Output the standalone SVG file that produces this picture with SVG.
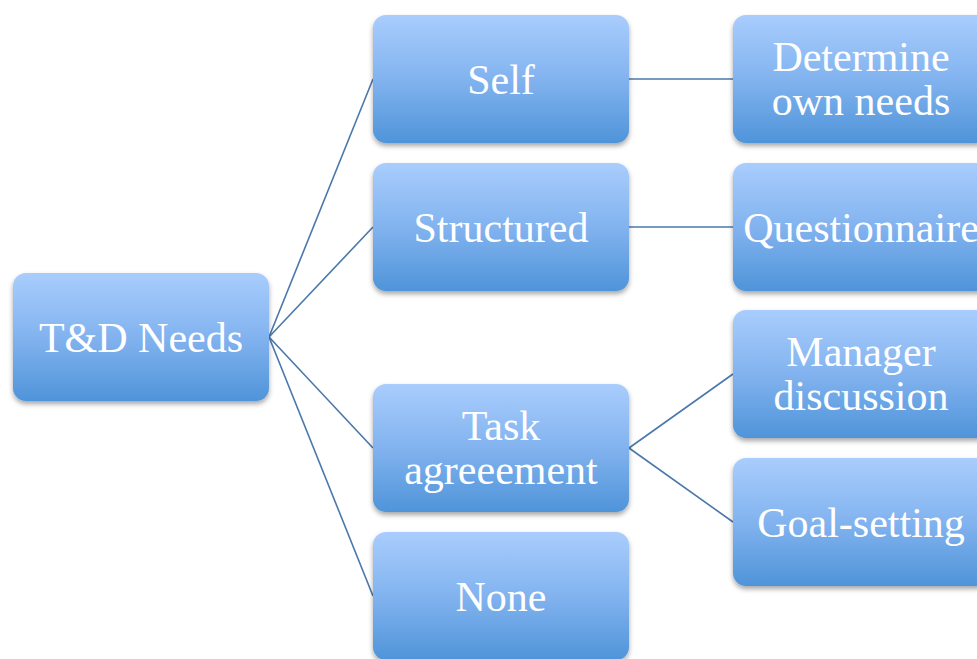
<svg xmlns="http://www.w3.org/2000/svg" width="977" height="659" viewBox="0 0 977 659">
<defs>
<linearGradient id="g" x1="0" y1="0" x2="0" y2="1">
<stop offset="0" stop-color="#a9cdfd"/>
<stop offset="0.5" stop-color="#82b3ef"/>
<stop offset="1" stop-color="#4f94d9"/>
</linearGradient>
<filter id="sh" x="-10%" y="-10%" width="120%" height="130%">
<feDropShadow dx="0" dy="3" stdDeviation="2.5" flood-color="#000" flood-opacity="0.35"/>
</filter>
</defs>
<style>
.box{fill:url(#g);filter:url(#sh);}
.t{font-family:"Liberation Serif","Times New Roman",serif;font-size:42px;fill:#fff;text-anchor:middle;}
.c{stroke:#4a78ab;stroke-width:1.6;fill:none;}
</style>
<rect width="977" height="659" fill="#fff"/>
<g id="connectors">
<line class="c" x1="269" y1="337" x2="373" y2="79"/>
<line class="c" x1="269" y1="337" x2="373" y2="227"/>
<line class="c" x1="269" y1="337" x2="373" y2="448"/>
<line class="c" x1="269" y1="337" x2="373" y2="596"/>
<line class="c" x1="629" y1="79" x2="733" y2="79"/>
<line class="c" x1="629" y1="227" x2="733" y2="227"/>
<line class="c" x1="629" y1="448" x2="733" y2="374"/>
<line class="c" x1="629" y1="448" x2="733" y2="522"/>
</g>
<g id="td-needs"><rect class="box" x="13" y="273" width="256" height="128" rx="13"/><text class="t" x="141" y="352">T&amp;D Needs</text></g>
<g id="self"><rect class="box" x="373" y="15" width="256" height="128" rx="13"/><text class="t" x="501" y="94">Self</text></g>
<g id="structured"><rect class="box" x="373" y="163" width="256" height="128" rx="13"/><text class="t" x="501" y="242">Structured</text></g>
<g id="task"><rect class="box" x="373" y="384" width="256" height="128" rx="13"/><text class="t" x="501" y="440">Task</text><text class="t" x="501" y="484">agreeement</text></g>
<g id="none"><rect class="box" x="373" y="532" width="256" height="128" rx="13"/><text class="t" x="501" y="611">None</text></g>
<g id="determine"><rect class="box" x="733" y="15" width="256" height="128" rx="13"/><text class="t" x="861" y="71">Determine</text><text class="t" x="861" y="115">own needs</text></g>
<g id="questionnaire"><rect class="box" x="733" y="163" width="256" height="128" rx="13"/><text class="t" x="861" y="242">Questionnaire</text></g>
<g id="manager"><rect class="box" x="733" y="310" width="256" height="128" rx="13"/><text class="t" x="861" y="366">Manager</text><text class="t" x="861" y="410">discussion</text></g>
<g id="goal"><rect class="box" x="733" y="458" width="256" height="128" rx="13"/><text class="t" x="861" y="537">Goal-setting</text></g>
</svg>
